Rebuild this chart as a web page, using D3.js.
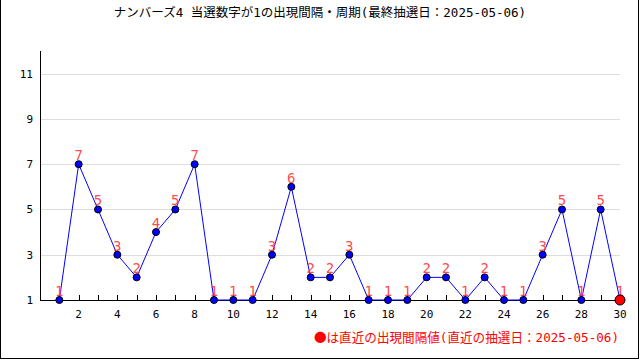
<!DOCTYPE html>
<html>
<head>
<meta charset="utf-8">
<script src="https://cdn.jsdelivr.net/npm/d3@7"></script>
<style>
  body { margin: 0; background: #fff; }
  svg text { font-family: "DejaVu Sans Mono", "Noto Sans CJK JP", monospace; }
</style>
</head>
<body>
<svg id="chart" width="640" height="360"></svg>
<script>
const draws = d3.range(1, 31);
const intervals = [1, 7, 5, 3, 2, 4, 5, 7, 1, 1, 1, 3, 6, 2, 2, 3, 1, 1, 1, 2, 2, 1, 2, 1, 1, 3, 5, 1, 5, 1];
const yTicks = [1, 3, 5, 7, 9, 11];
const xTicks = [2, 4, 6, 8, 10, 12, 14, 16, 18, 20, 22, 24, 26, 28, 30];
const title = 'ナンバーズ4 当選数字が1の出現間隔・周期(最終抽選日：2025-05-06)';
const note = 'は直近の出現間隔値(直近の抽選日：2025-05-06)';

const svg = d3.select('#chart');
const x = d3.scaleLinear().domain([0, 30]).range([40, 620]);
const y = d3.scaleLinear().domain([1, 12]).range([300, 51]);

// frame
svg.append('rect').attr('x', 0.5).attr('y', -1).attr('width', 638).attr('height', 359.5)
  .attr('fill', 'none').attr('stroke', '#000').attr('stroke-width', 1);

svg.append('text').attr('x', 320).attr('y', 17).attr('text-anchor', 'middle')
  .style('font-size', '12.5px').text(title);

// grid
svg.append('g').selectAll('line').data(yTicks.filter(d => d > 1)).enter().append('line')
  .attr('x1', x(0)).attr('x2', x(30))
  .attr('y1', d => Math.round(y(d)) + 0.5).attr('y2', d => Math.round(y(d)) + 0.5)
  .attr('stroke', '#ddd');

// y labels
svg.append('g').selectAll('text').data(yTicks).enter().append('text')
  .attr('x', 33).attr('y', d => y(d) + 4).attr('text-anchor', 'end')
  .style('font-size', '11px').text(d => d);

// x ticks + labels
svg.append('g').selectAll('line').data(draws).enter().append('line')
  .attr('x1', d => Math.round(x(d)) + 0.5).attr('x2', d => Math.round(x(d)) + 0.5)
  .attr('y1', 300).attr('y2', 295).attr('stroke', '#000');
svg.append('g').selectAll('text').data(xTicks).enter().append('text')
  .attr('x', d => x(d)).attr('y', 318).attr('text-anchor', 'middle')
  .style('font-size', '11px').text(d => d);

// axes
svg.append('line').attr('x1', 40.5).attr('x2', 40.5).attr('y1', 51).attr('y2', 300.5).attr('stroke', '#000');
svg.append('line').attr('x1', 40).attr('x2', 621).attr('y1', 300.5).attr('y2', 300.5).attr('stroke', '#000');

const pts = draws.map((d, i) => ({ n: d, v: intervals[i] }));

svg.append('path').datum(pts)
  .attr('d', d3.line().x(d => x(d.n)).y(d => y(d.v)))
  .attr('fill', 'none').attr('stroke', '#0000ff').attr('stroke-width', 1);

svg.append('g').selectAll('text').data(pts).enter().append('text')
  .attr('x', d => x(d.n)).attr('y', d => y(d.v) - 4).attr('text-anchor', 'middle')
  .attr('fill', '#ff3333').attr('fill-opacity', 0.9)
  .style('font-size', '14px').text(d => d.v);

svg.append('g').selectAll('circle').data(pts).enter().append('circle')
  .attr('cx', d => x(d.n)).attr('cy', d => y(d.v))
  .attr('r', (d, i) => i === pts.length - 1 ? 5 : 3.5)
  .attr('fill', (d, i) => i === pts.length - 1 ? '#ff0000' : '#0000ff')
  .attr('stroke', '#000').attr('stroke-width', 1);

const foot = svg.append('text').attr('x', 619).attr('y', 342).attr('text-anchor', 'end')
  .attr('fill', '#ff0000').style('font-size', '12.6px');
foot.append('tspan').style('font-family', '"Noto Sans CJK JP", sans-serif').text('●');
foot.append('tspan').text(note);
</script>
</body>
</html>
